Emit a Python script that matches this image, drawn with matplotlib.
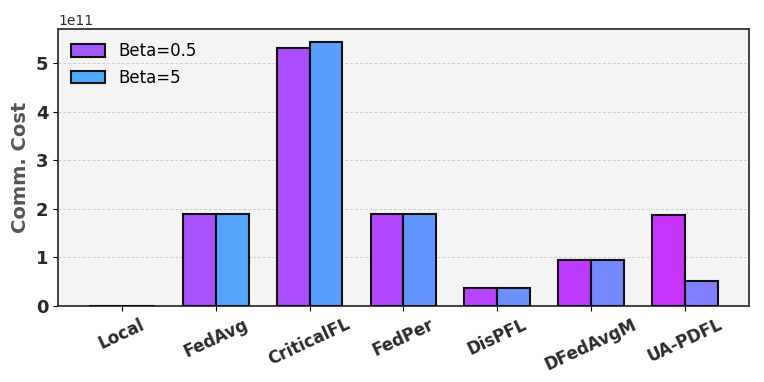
import matplotlib
matplotlib.use("Agg")
import matplotlib.pyplot as plt
import numpy as np
from matplotlib.patches import Patch

categories = ["Local", "FedAvg", "CriticalFL", "FedPer", "DisPFL", "DFedAvgM", "UA-PDFL"]
beta05 = [0.0, 1.886e11, 5.32e11, 1.886e11, 0.366e11, 0.936e11, 1.874e11]
beta5 = [0.0, 1.886e11, 5.43e11, 1.886e11, 0.366e11, 0.936e11, 0.50e11]
series_labels = ["Beta=0.5", "Beta=5"]

c1 = ["#A458FF", "#A852FF", "#AA4DFF", "#B047FF", "#B843FF", "#BF3AFF", "#C832FF"]
c2 = ["#50AAFF", "#55A5FF", "#5A9EFF", "#6496FF", "#6C90FF", "#7488FF", "#8080FF"]

fig, ax = plt.subplots(figsize=(7.64, 3.82), dpi=100)
fig.subplots_adjust(left=0.076, right=0.98, top=0.924, bottom=0.2)
ax.set_facecolor("#f4f4f4")
x = np.arange(len(categories))
w = 0.35
ax.bar(x - w/2, beta05, w, color=c1, edgecolor="#111111", linewidth=1.5, zorder=3)
ax.bar(x + w/2, beta5, w, color=c2, edgecolor="#111111", linewidth=1.5, zorder=3)
ax.set_xlim(-0.68, len(categories) - 1 + 0.68)
ax.set_ylim(0, max(beta5) * 1.05)
ax.set_xticks(x)
ax.set_xticklabels(categories, rotation=25, fontweight="bold", fontsize=12, color="#2a2a2a")
ax.tick_params(axis="y", labelsize=13, labelcolor="#2a2a2a")
for t in ax.get_yticklabels():
    t.set_fontweight("bold")
ax.yaxis.get_offset_text().set_fontsize(10)
ax.set_ylabel("Comm. Cost", fontsize=14, fontweight="bold", color="#555555")
ax.grid(axis="y", linestyle=(0, (3, 2)), color="#cccccc", linewidth=0.7, zorder=0)
ax.set_axisbelow(True)
for s in ax.spines.values():
    s.set_color("#333333")
    s.set_linewidth(1.3)
handles = [Patch(facecolor="#A458FF", edgecolor="#111111", linewidth=1.5),
           Patch(facecolor="#50AAFF", edgecolor="#111111", linewidth=1.5)]
ax.legend(handles, series_labels, loc="upper left", frameon=False, fontsize=12,
          handlelength=2.0, handleheight=0.8, borderaxespad=0.4)
fig.savefig("out.png", dpi=100)
